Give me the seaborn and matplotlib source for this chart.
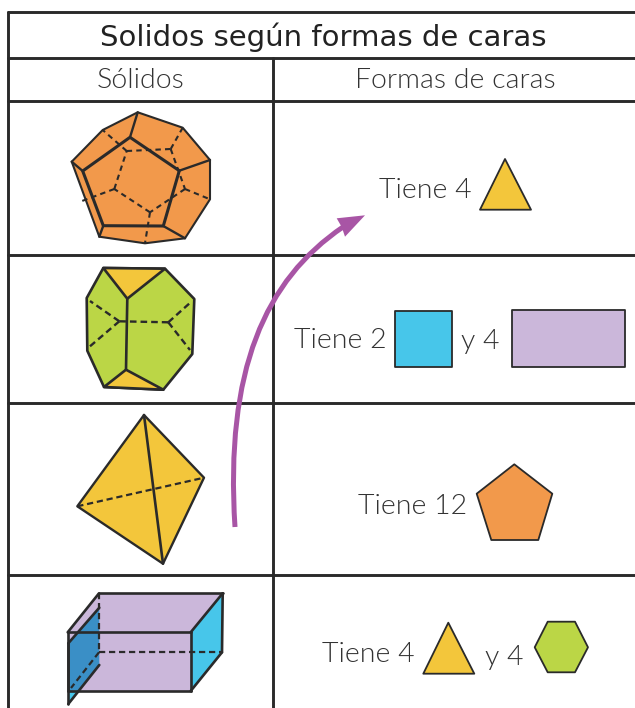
import matplotlib
matplotlib.use("Agg")
import matplotlib.pyplot as plt
from matplotlib.patches import Polygon, PathPatch
from matplotlib.path import Path
import seaborn as sns

sns.set_theme(style="white")

INK = "#2a2a2a"
ORANGE = "#F2994B"
GREEN = "#BBD646"
YELLOW = "#F3C63B"
CYAN = "#47C6EA"
LILAC = "#CBB7DA"
DEEP = "#3A8FC6"
PURPLE = "#A855A5"

# table
table_h = [(8, 635, 11.5), (8, 635, 57.5), (8, 635, 100.5), (8, 635, 255), (8, 635, 403), (8, 635, 575)]
table_v = [(8, 11.5, 708), (272.5, 57.5, 708)]

title = "Solidos según formas de caras"
headers = [("Sólidos", 141, 81), ("Formas de caras", 455.5, 81)]
labels = [("Tiene 4", 379, 190), ("Tiene 2", 294, 340), ("y 4", 461, 342),
          ("Tiene 12", 358, 506), ("Tiene 4", 322, 655), ("y 4", 485, 657)]

# dodecahedron
dod_outer = [(137.7, 112.3), (182.7, 127.7), (210, 160), (210, 199.3), (185, 238.3), (145, 243.3), (99.3, 236.7), (71.7, 161.7), (102.7, 130)]
dod_inner = [(130, 137.3), (179.3, 170.7), (163.3, 226), (103.3, 225.7), (82.7, 171)]
dod_links = [((130, 137.3), (137.7, 112.3)), ((179.3, 170.7), (210, 160)), ((163.3, 226), (185, 238.3)),
             ((103.3, 225.7), (99.3, 236.7)), ((82.7, 171), (71.7, 161.7))]
dod_back = [(126.7, 151), (170.7, 149), (185, 189), (150, 212.3), (114.3, 189)]
dod_spokes = [((126.7, 151), (102.7, 130)), ((170.7, 149), (182.7, 127.7)), ((185, 189), (210, 199.3)),
              ((150, 212.3), (145, 243.3)), ((114.3, 189), (82, 201))]

# hexagonal prism
prism_outer = [(103.3, 268), (165, 268.7), (194.3, 299), (192.3, 354), (163.3, 389.7), (104, 387), (87.3, 350.7), (86.7, 298)]
prism_top = [(103.3, 268), (165, 268.7), (127.3, 298.7)]
prism_bottom = [(126, 369.7), (163.3, 389.7), (104, 387)]
prism_solid = [((127.3, 298.7), (126, 369.7))]
prism_dash = [((119.3, 321.3), (168.3, 322.3)), ((119.3, 321.3), (90, 301)), ((119.3, 321.3), (88, 348)),
              ((168.3, 322.3), (191, 302)), ((168.3, 322.3), (190, 350))]

# tetrahedron
tet_outer = [(144, 415), (204, 477.7), (163, 563.7), (77.3, 506.3)]
tet_solid = [((144, 415), (163, 563.7))]
tet_dash = [((77.3, 506.3), (204, 477.7))]

# box
box_front = [(67.7, 632.3), (190.7, 632.3), (190.7, 691), (67.7, 691)]
box_top = [(67.7, 632.3), (99, 593.3), (222.7, 593.3), (190.7, 632.3)]
box_side = [(190.7, 632.3), (222.7, 593.3), (222, 652.3), (190.7, 691)]
plane_upper = [(99.3, 607.7), (99.3, 665), (78, 691), (68.3, 691), (68.3, 643.3)]
plane_lower = [(68.3, 691), (78, 691), (68.3, 704)]
box_solid = [((67.7, 632.3), (99, 593.3)), ((99, 593.3), (222.7, 593.3)), ((222.7, 593.3), (190.7, 632.3)),
             ((222.7, 593.3), (222, 652.3)), ((222, 652.3), (190.7, 691)),
             ((67.7, 632.3), (190.7, 632.3)), ((190.7, 632.3), (190.7, 691)), ((190.7, 691), (67.7, 691)), ((67.7, 632.3), (67.7, 691)),
             ((99.3, 607.7), (68.3, 643.3)), ((99.3, 665), (68.3, 704)), ((68.3, 643.3), (68.3, 704))]
box_dash = [((99, 593.3), (99, 652.3)), ((99, 652.3), (222, 652.3)), ((99, 652.3), (71, 688))]

# right column shapes
tri_one = [(505, 159), (531, 209.7), (480, 209.7)]
square = [(394.7, 310.7), (451.7, 310.7), (451.7, 367.3), (394.7, 367.3)]
rectangle = [(511.7, 310.3), (625.3, 310.3), (625.3, 367), (511.7, 367)]
pentagon = [(514.3, 464.3), (552.3, 493.7), (538.3, 540), (491.3, 540), (476.7, 493.7)]
tri_two = [(448.3, 622.7), (474.3, 673.7), (423.3, 673.7)]
hexagon = [(547.7, 621.7), (575, 621.7), (588, 647.3), (575, 672.3), (547.7, 672.3), (534.7, 647.3)]

# arrow
arrow_curve = [(235, 527), (225, 370), (265, 280), (343, 227)]
arrow_head = [(365, 215.3), (345, 236.7), (341.7, 227), (336.7, 218.3)]

fig, ax = plt.subplots(figsize=(6.35, 7.08), dpi=100)
fig.subplots_adjust(0, 0, 1, 1)


def seg(a, b, lw=2.0, ls="-", color=INK):
    sns.lineplot(x=[a[0], b[0]], y=[a[1], b[1]], ax=ax, color=color, lw=lw, linestyle=ls,
                 sort=False, estimator=None, legend=False, solid_capstyle="round", dash_capstyle="butt", zorder=4)


def poly(pts, fc, lw=1.3, ec=INK, z=2):
    ax.add_patch(Polygon(pts, closed=True, fc=fc, ec=ec, lw=lw, joinstyle="round", zorder=z))


DASH = (0, (2.8, 1.7))
DASH_SHORT = (0, (2.6, 2.0))

for x0, x1, y in table_h:
    seg((x0, y), (x1, y), lw=2.1)
for x, y0, y1 in table_v:
    seg((x, y0), (x, y1), lw=2.1)

poly(dod_outer, ORANGE, lw=1.5)
poly(dod_inner, "none", lw=2.2, z=5)
for a, b in dod_links:
    seg(a, b, lw=1.7)
for i, a in enumerate(dod_back):
    seg(a, dod_back[(i + 1) % len(dod_back)], lw=1.5, ls=DASH_SHORT)
for a, b in dod_spokes:
    seg(a, b, lw=1.5, ls=DASH_SHORT)

poly(prism_outer, GREEN, lw=1.9)
poly(prism_top, YELLOW, lw=1.9, z=3)
poly(prism_bottom, YELLOW, lw=1.9, z=3)
for a, b in prism_solid:
    seg(a, b, lw=1.9)
for a, b in prism_dash:
    seg(a, b, lw=1.7, ls=DASH)

poly(tet_outer, YELLOW, lw=1.7)
for a, b in tet_solid:
    seg(a, b, lw=1.9)
for a, b in tet_dash:
    seg(a, b, lw=1.6, ls=DASH)

poly(box_top, LILAC, lw=0)
poly(box_front, LILAC, lw=0)
poly(box_side, CYAN, lw=0)
poly(plane_upper, DEEP, lw=0, z=3)
poly(plane_lower, CYAN, lw=0, z=3)
for a, b in box_solid:
    seg(a, b, lw=1.9)
for a, b in box_dash:
    seg(a, b, lw=1.6, ls=DASH)

for pts, col in [(tri_one, YELLOW), (square, CYAN), (rectangle, LILAC), (pentagon, ORANGE), (tri_two, YELLOW), (hexagon, GREEN)]:
    poly(pts, col, lw=1.3)

ax.add_patch(PathPatch(Path(arrow_curve, [Path.MOVETO, Path.CURVE4, Path.CURVE4, Path.CURVE4]),
                       fc="none", ec=PURPLE, lw=3.6, capstyle="butt", zorder=6))
ax.add_patch(Polygon(arrow_head, closed=True, fc=PURPLE, ec="none", zorder=6))

ax.text(323.5, 37, title, ha="center", va="center", family="DejaVu Sans", fontsize=21, color="#222222", zorder=7)
for s, x, y in headers:
    ax.text(x, y, s, ha="center", va="center", family="Lato", weight=300, fontsize=20.5, color="#333333", zorder=7)
for s, x, y in labels:
    ax.text(x, y, s, ha="left", va="center", family="Lato", weight=300, fontsize=20.5, color="#333333", zorder=7)

ax.set_xlim(0, 635)
ax.set_ylim(708, 0)
ax.axis("off")
fig.savefig("out.png", dpi=100, facecolor="white")
